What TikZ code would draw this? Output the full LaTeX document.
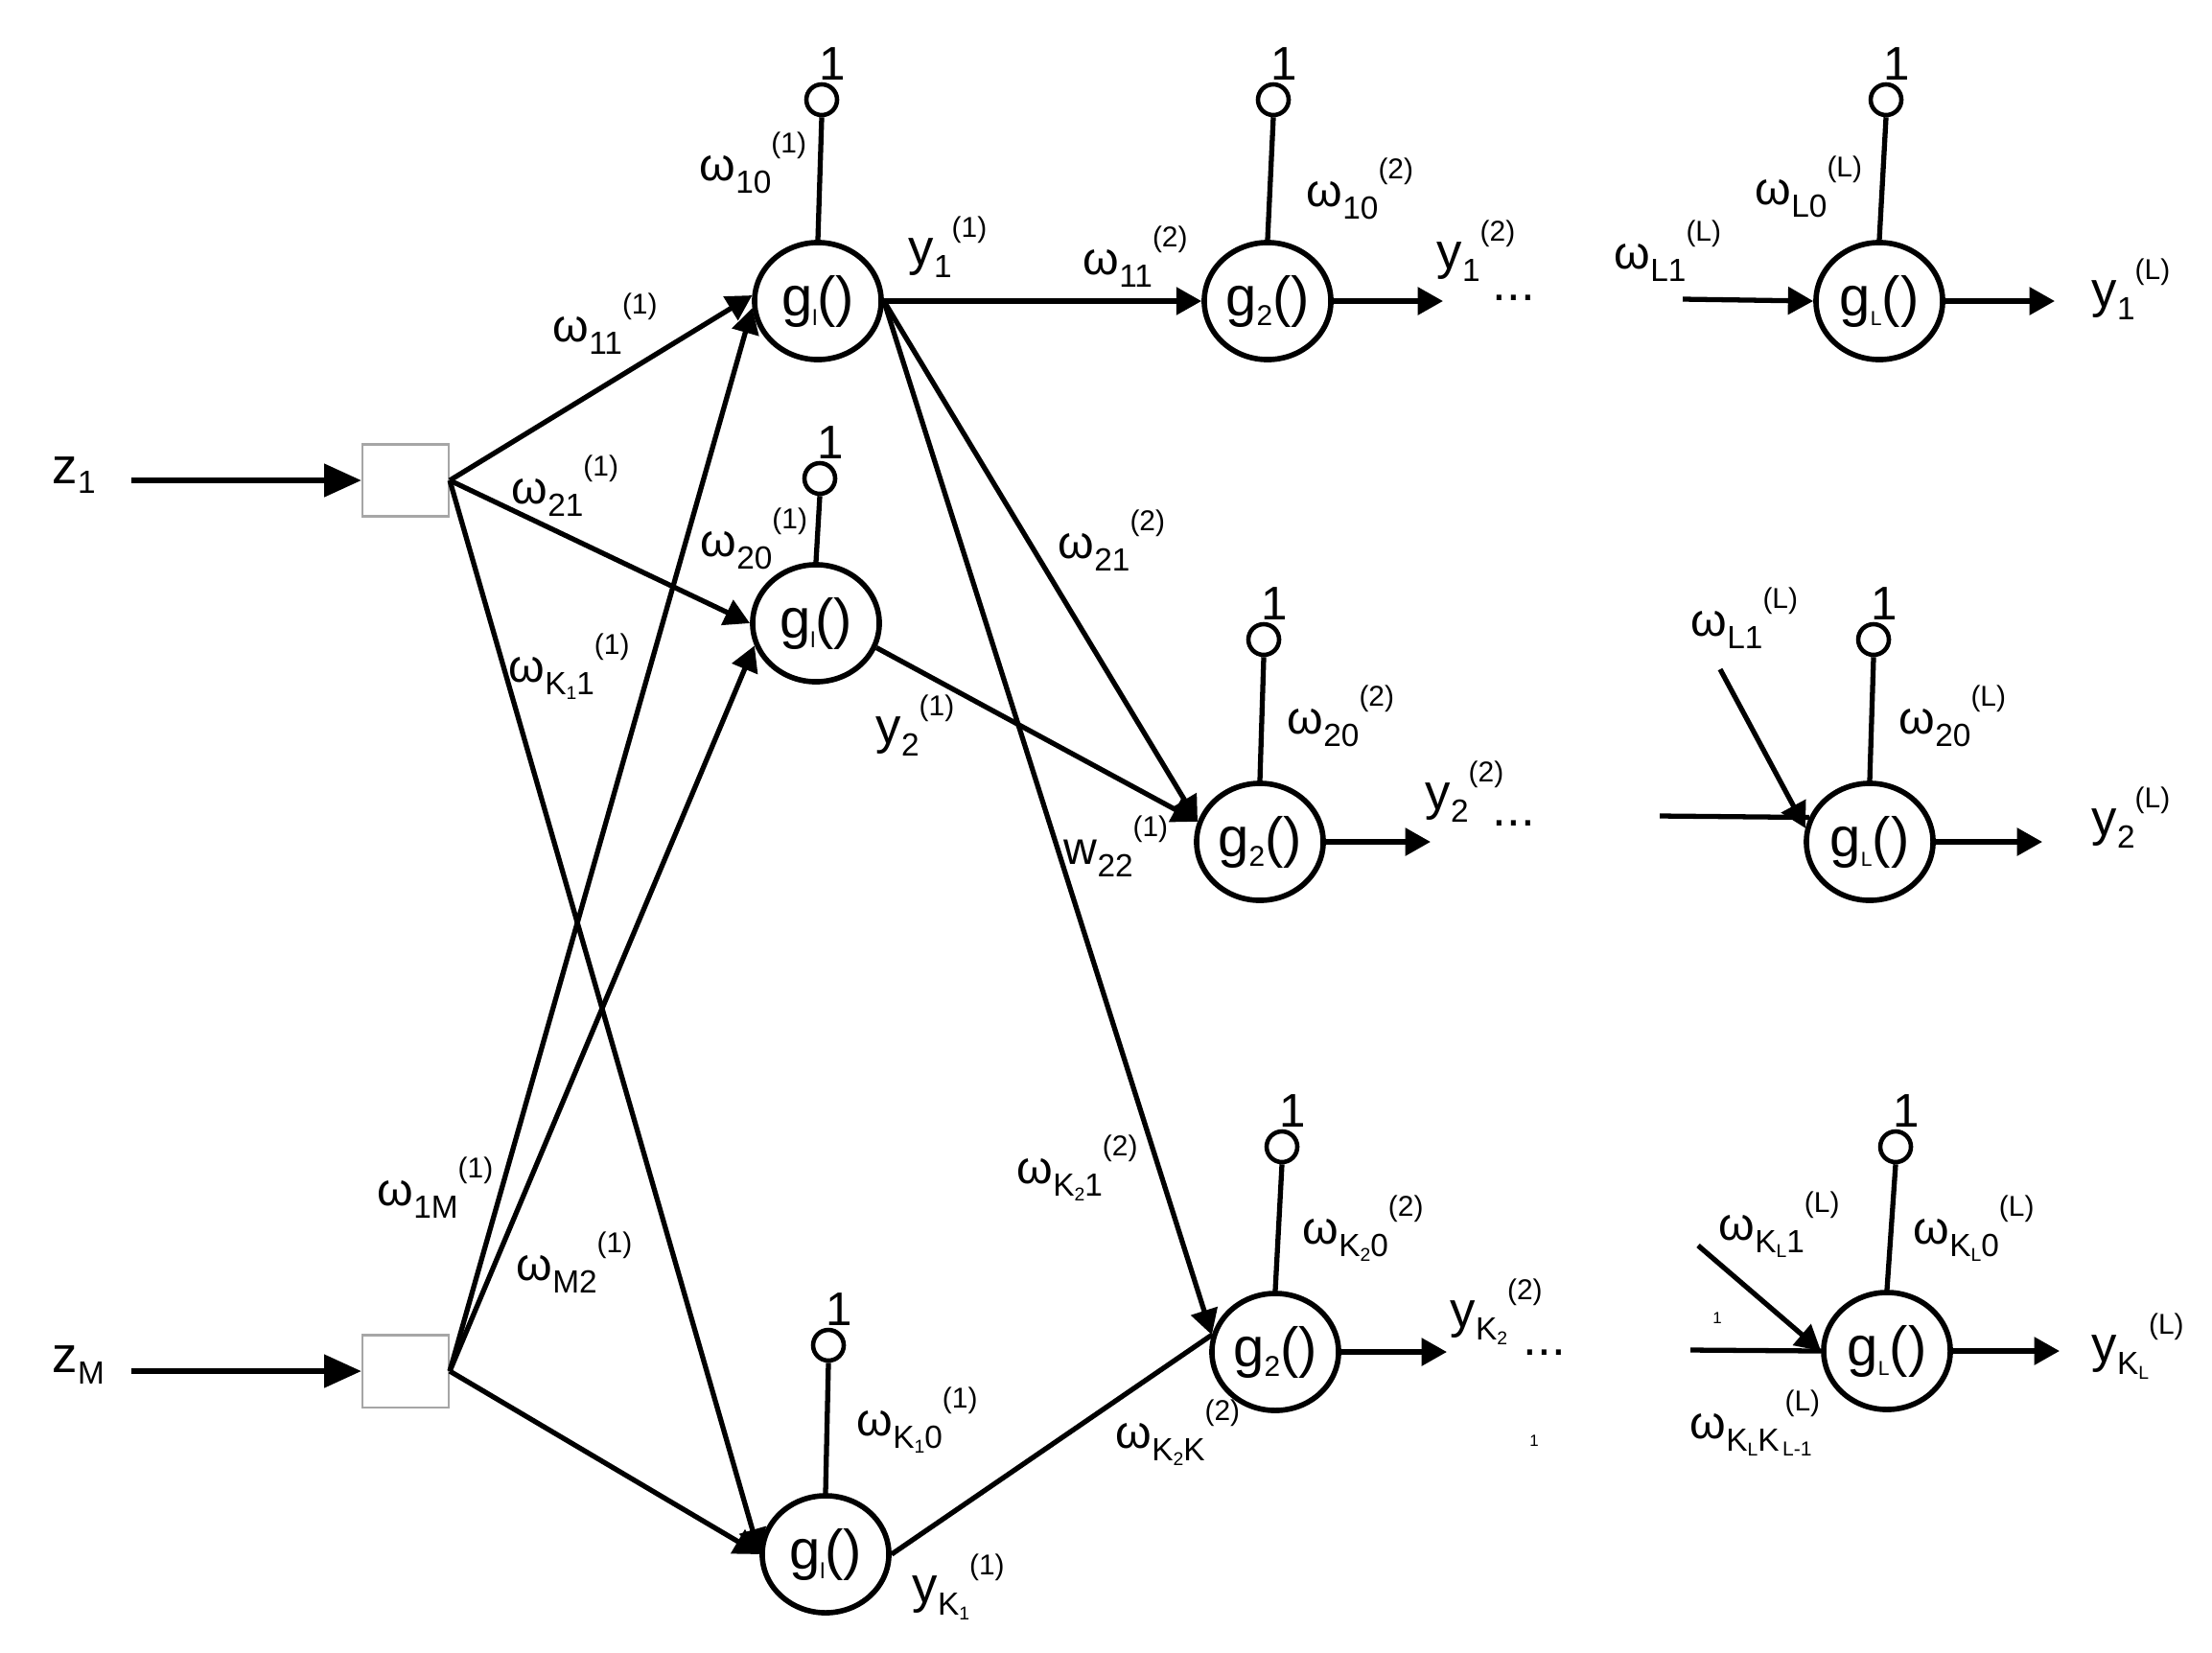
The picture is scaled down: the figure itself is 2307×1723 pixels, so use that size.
\documentclass[tikz,border=0pt]{standalone}
\usepackage{fontspec}
\setmainfont{Liberation Sans}
\usetikzlibrary{shapes.geometric, arrows.meta}
\newcommand{\kk}[1]{K\raisebox{-1.5pt}{\fontsize{5.5pt}{6pt}\selectfont #1}}
\newcommand{\wl}[3][ω]{#1\raisebox{-3.8pt}{\fontsize{9.5pt}{10pt}\selectfont #2}\raisebox{8pt}{\fontsize{8.5pt}{9pt}\selectfont(#3)}}
\newcommand{\gf}[2][6.5pt]{g\raisebox{-3pt}{\fontsize{#1}{#1}\selectfont #2}()}
\begin{document}
\begin{tikzpicture}[x=0.01cm, y=-0.01cm,
	neur/.style={draw, ellipse, line width=1.6pt, minimum width=1.32cm,
		minimum height=1.22cm, inner sep=0pt, font=\fontsize{16.5pt}{17pt}\selectfont},
	bias/.style={draw, circle, line width=1.3pt, minimum size=0.32cm, inner sep=0pt},
	inbox/.style={draw=gray!70, line width=0.6pt, minimum width=0.9cm,
		minimum height=0.75cm, inner sep=0pt},
	one/.style={anchor=base, inner sep=0pt, font=\fontsize{14pt}{14pt}\selectfont},
	wlbl/.style={anchor=base west, inner sep=0pt, font=\fontsize{13.7pt}{14pt}\selectfont},
	ylbl/.style={anchor=base west, inner sep=0pt, font=\fontsize{15pt}{15pt}\selectfont},
	tinyone/.style={anchor=base, inner sep=0pt, font=\fontsize{4.8pt}{5pt}\selectfont},
	wire/.style={line width=1.5pt},
	arr/.style={wire, -{Triangle[length=7.5pt, width=8pt]}},
	inarr/.style={line width=1.7pt, -{Triangle[length=11pt, width=9.5pt]}}]
	\useasboundingbox (0,0) rectangle (2307,1723);
	\node [neur] (g11) at (853,314) {\gf{l}};
	\node [neur] (g12) at (851,650) {\gf{l}};
	\node [neur] (g13) at (861,1621) {\gf{l}};
	\node [neur] (g21) at (1322,314) {\gf[8.5pt]{2}};
	\node [neur] (g22) at (1314,878) {\gf[8.5pt]{2}};
	\node [neur] (g23) at (1330,1410) {\gf[8.5pt]{2}};
	\node [neur] (gL1) at (1960,314) {\gf[6pt]{L}};
	\node [neur] (gL2) at (1950,878) {\gf[6pt]{L}};
	\node [neur] (gL3) at (1968,1409) {\gf[6pt]{L}};
	\node [bias] (b11) at (857,104) {};
	\node [bias] (b12) at (855,499) {};
	\node [bias] (b13) at (864,1403) {};
	\node [bias] (b21) at (1328,104) {};
	\node [bias] (b22) at (1318,667) {};
	\node [bias] (b23) at (1337,1196) {};
	\node [bias] (bL1) at (1967,104) {};
	\node [bias] (bL2) at (1954,667) {};
	\node [bias] (bL3) at (1977,1196) {};
	\foreach \n in {11,12,13,21,22,23,L1,L2,L3} {
		\node [one] (o\n) at ([shift={(11,-21)}]b\n.center) {1};
		\draw [wire] (b\n.south) -- (g\n.north);
	}
	\node [inbox] (x1) at (423,501) {};
	\node [inbox] (xM) at (423,1430) {};
	\coordinate (s1) at (137,501);
	\coordinate (sM) at (137,1430);
	\draw [inarr] (s1) -- (x1.west);
	\draw [inarr] (sM) -- (xM.west);
	\node [ylbl] (z1) at (54,504) {z\raisebox{-3pt}{\fontsize{9.5pt}{10pt}\selectfont 1}};
	\node [ylbl] (zM) at (54,1431) {z\raisebox{-3.5pt}{\fontsize{9.5pt}{10pt}\selectfont M}};
	\draw [arr] (x1.east) -- (g11.175);
	\draw [arr] (x1.east) -- (g12.west);
	\draw [arr] (x1.east) -- (g13.west);
	\draw [arr] (xM.east) -- (g11.186);
	\draw [arr] (xM.east) -- (g12.200);
	\draw [arr] (xM.east) -- (g13.west);
	\draw [arr] (g11.east) -- (g21.west);
	\draw [arr] (g11.east) -- (g22.162);
	\draw [arr] (g11.east) -- (g23.165);
	\draw [arr] (g12.-22) -- (g22.162);
	\draw [wire] (g13.east) -- (g23.165);
	\coordinate (e21) at (1505,314);
	\coordinate (e22) at (1492,878);
	\coordinate (e23) at (1509,1410);
	\draw [arr] (g21.east) -- (e21);
	\draw [arr] (g22.east) -- (e22);
	\draw [arr] (g23.east) -- (e23);
	\coordinate (iL1) at (1755,312);
	\coordinate (iL2a) at (1794,698);
	\coordinate (iL2b) at (1731,851);
	\coordinate (iL3a) at (1771,1299);
	\coordinate (iL3b) at (1763,1408);
	\draw [arr] (iL1) -- (gL1.west);
	\draw [arr] (iL2a) -- (gL2.168);
	\draw [wire] (iL2b) -- (gL2.158);
	\draw [arr] (iL3a) -- (gL3.west);
	\draw [wire] (iL3b) -- (gL3.west);
	\coordinate (eL1) at (2143,314);
	\coordinate (eL2) at (2130,878);
	\coordinate (eL3) at (2148,1409);
	\draw [arr] (gL1.east) -- (eL1);
	\draw [arr] (gL2.east) -- (eL2);
	\draw [arr] (gL3.east) -- (eL3);
	\node [wlbl] (w110) at (729,188) {\wl{10}{1}};
	\node [wlbl] (w111) at (576,356) {\wl{11}{1}};
	\node [wlbl] (w121) at (533,525) {\wl{21}{1}};
	\node [wlbl] (w120) at (730,580) {\wl{20}{1}};
	\node [wlbl] (w1K1) at (530,711) {\wl{\kk{1}1}{1}};
	\node [wlbl] (w11M) at (393,1257) {\wl{1M}{1}};
	\node [wlbl] (w1M2) at (538,1335) {\wl{M2}{1}};
	\node [wlbl] (w1K0) at (893,1497) {\wl{\kk{1}0}{1}};
	\node [ylbl] (y11) at (947,276) {\wl[y]{1}{1}};
	\node [ylbl] (y12) at (913,775) {\wl[y]{2}{1}};
	\node [ylbl] (y1K) at (951,1671) {\wl[y]{\kk{1}}{1}};
	\node [wlbl] (w211) at (1129,286) {\wl{11}{2}};
	\node [wlbl] (w210) at (1362,215) {\wl{10}{2}};
	\node [wlbl] (w221) at (1103,582) {\wl{21}{2}};
	\node [wlbl] (w222) at (1109,901) {\wl[w]{22}{1}};
	\node [wlbl] (w220) at (1342,765) {\wl{20}{2}};
	\node [wlbl] (w2K1) at (1060,1234) {\wl{\kk{2}1}{2}};
	\node [wlbl] (w2K0) at (1358,1297) {\wl{\kk{2}0}{2}};
	\node [wlbl] (w2KK) at (1163,1510) {\wl{\kk{2}K}{2}};
	\node [ylbl] (y21) at (1498,280) {\wl[y]{1}{2}};
	\node [ylbl] (y22) at (1486,844) {\wl[y]{2}{2}};
	\node [ylbl] (y2K) at (1512,1384) {\wl[y]{\kk{2}}{2}};
	\node [ylbl] (d1) at (1556,313) {...};
	\node [ylbl] (d2) at (1556,861) {...};
	\node [ylbl] (d3) at (1588,1413) {...};
	\node [wlbl] (wLL0) at (1830,213) {\wl{L0}{L}};
	\node [wlbl] (wLL1) at (1683,280) {\wl{L1}{L}};
	\node [wlbl] (wLL1b) at (1763,663) {\wl{L1}{L}};
	\node [wlbl] (wL20) at (1980,765) {\wl{20}{L}};
	\node [wlbl] (wLK1) at (1792,1293) {\wl{\kk{L}1}{L}};
	\node [wlbl] (wLK0) at (1995,1297) {\wl{\kk{L}0}{L}};
	\node [wlbl] (wLKK) at (1762,1500) {ω\raisebox{-3.8pt}{\fontsize{9.5pt}{10pt}\selectfont
		\kk{L}K\raisebox{-1.5pt}{\fontsize{6pt}{6pt}\selectfont\,L-1}}\kern-8pt\raisebox{8pt}{\fontsize{8.5pt}{9pt}\selectfont(L)}};
	\node [ylbl] (yL1) at (2181,320) {\wl[y]{1}{L}};
	\node [ylbl] (yL2) at (2181,871) {\wl[y]{2}{L}};
	\node [ylbl] (yLK) at (2181,1420) {\wl[y]{\kk{L}}{L}};
	\node [tinyone] (t1) at (1791,1380) {1};
	\node [tinyone] (t2) at (1600,1508) {1};
\end{tikzpicture}
\end{document}
